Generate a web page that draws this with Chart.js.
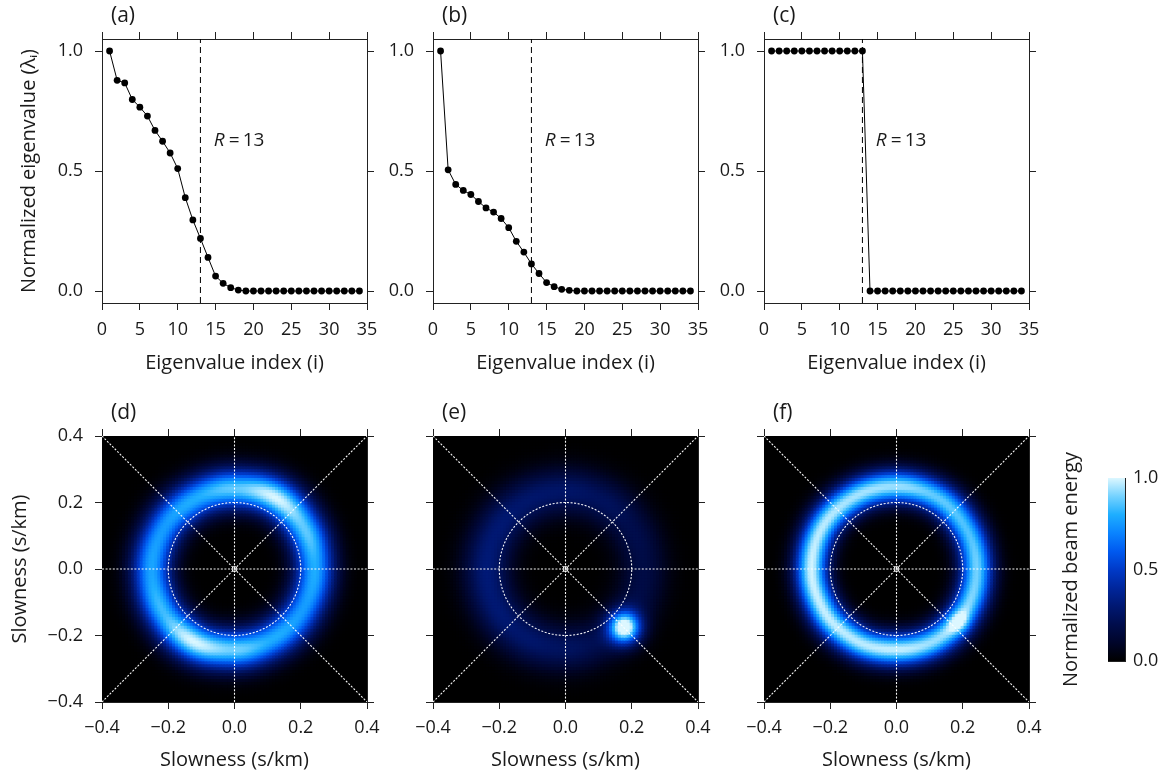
<!DOCTYPE html>
<html><head><meta charset="utf-8">
<script src="https://cdn.jsdelivr.net/npm/chart.js@4.4.1/dist/chart.umd.min.js"></script>
<style>
html,body{margin:0;padding:0;background:#fff;}
#wrap{position:relative;width:1166px;height:778px;overflow:hidden;}
#wrap canvas{position:absolute;left:0;top:0;}
</style></head>
<body><div id="wrap">
<canvas id="ca" width="1166" height="778"></canvas>
<canvas id="cb" width="1166" height="778"></canvas>
<canvas id="cc" width="1166" height="778"></canvas>
<canvas id="cd" width="1166" height="778"></canvas>
<canvas id="ce" width="1166" height="778"></canvas>
<canvas id="cf" width="1166" height="778"></canvas>
<canvas id="cbar" width="1166" height="778"></canvas>
</div>
<script>
// ---------------- data ----------------
const eigIndex = [1,2,3,4,5,6,7,8,9,10,11,12,13,14,15,16,17,18,19,20,21,22,23,24,25,26,27,28,29,30,31,32,33,34];
const eigA = [1.000,0.878,0.867,0.798,0.766,0.729,0.669,0.624,0.575,0.510,0.389,0.296,0.219,0.140,0.062,0.032,0.014,0.004,0,0,0,0,0,0,0,0,0,0,0,0,0,0,0,0];
const eigB = [1.000,0.505,0.444,0.419,0.402,0.373,0.346,0.329,0.302,0.264,0.207,0.162,0.113,0.073,0.035,0.018,0.007,0.003,0,0,0,0,0,0,0,0,0,0,0,0,0,0,0,0];
const eigC = [1,1,1,1,1,1,1,1,1,1,1,1,1,0,0,0,0,0,0,0,0,0,0,0,0,0,0,0,0,0,0,0,0,0];
const rankR = 13;
const eigXTicks = [0,5,10,15,20,25,30,35];
const eigYTicks = [0,0.5,1];

const slowTicks = [-0.4,-0.2,0,0.2,0.4];
const guideRadius = 0.2;
const ringAngles = [0,30,60,90,120,150,180,210,240,270,300,330];
// panel (d)
const ringPeakD   = [0.80,0.88,1.00,0.88,0.80,0.76,0.78,0.84,1.00,0.90,0.80,0.76];
const ringRadiusD = [0.243,0.246,0.250,0.243,0.242,0.245,0.248,0.248,0.248,0.240,0.238,0.240];
const ringWidthD  = 0.043;
const spotsD = [];
// panel (e)
const ringPeakE   = [0.18,0.20,0.24,0.27,0.28,0.30,0.31,0.30,0.28,0.25,0.20,0.18];
const ringRadiusE = [0.235,0.235,0.235,0.235,0.235,0.235,0.235,0.235,0.235,0.235,0.235,0.235];
const ringWidthE  = 0.05;
const spotsE = [[0.18,-0.174,0.98,0.034]];
// panel (f)
const ringPeakF   = [0.90,0.86,0.88,0.94,0.95,0.97,0.99,0.98,0.97,0.98,0.94,0.92];
const ringRadiusF = [0.243,0.245,0.250,0.250,0.252,0.256,0.255,0.250,0.245,0.240,0.243,0.243];
const ringWidthF  = 0.036;
const spotsF = [[0.19,-0.158,0.20,0.024]];

const cbarTicks = [0,0.5,1];
const cmapStops  = [0,0.1,0.2,0.3,0.4,0.5,0.6,0.7,0.8,0.9,1.0];
const cmapColors = ['#000000','#00052a','#000d4c','#001872','#00269c','#003ac8','#005af0','#0a84ff','#1eaeff','#74d2ff','#dcf7ff'];

// ---------------- helpers ----------------
const W = 1166, H = 778;
const FONT = "'Open Sans', Lato, 'Noto Sans', 'DejaVu Sans', sans-serif";
const TXT = '#1a1a1a';
const LINE = '#222';

function hex(c){ return [parseInt(c.slice(1,3),16),parseInt(c.slice(3,5),16),parseInt(c.slice(5,7),16)]; }
const cmapRGB = cmapColors.map(hex);
function cmap(v){
  v = Math.max(0, Math.min(1, v));
  for (let i = 1; i < cmapStops.length; i++) {
    if (v <= cmapStops[i]) {
      const f = (v - cmapStops[i-1]) / (cmapStops[i] - cmapStops[i-1]);
      const a = cmapRGB[i-1], b = cmapRGB[i];
      return 'rgb(' + Math.round(a[0]+(b[0]-a[0])*f) + ',' + Math.round(a[1]+(b[1]-a[1])*f) + ',' + Math.round(a[2]+(b[2]-a[2])*f) + ')';
    }
  }
  return cmapColors[cmapColors.length-1];
}
function angInterp(arr, deg){
  const n = arr.length, step = ringAngles[1] - ringAngles[0];
  const t = (((deg % 360) + 360) % 360) / step;
  const i = Math.floor(t) % n, f = t - Math.floor(t);
  const s = (1 - Math.cos(Math.PI * f)) / 2;
  return arr[i] * (1 - s) + arr[(i + 1) % n] * s;
}
function beamValue(x, y, ring, spots){
  const r = Math.hypot(x, y), th = Math.atan2(y, x) * 180 / Math.PI;
  const A = angInterp(ring.peak, th), R = angInterp(ring.radius, th);
  let v = A * Math.exp(-0.5 * Math.pow((r - R) / ring.width, 2));
  for (const s of spots) v += s[2] * Math.exp(-0.5 * ((x - s[0]) ** 2 + (y - s[1]) ** 2) / (s[3] ** 2));
  return v;
}
const fmt1 = v => (v < 0 ? '\u2212' : '') + Math.abs(v).toFixed(1);
const fmtInt = v => String(v);

function axis(pos, min, max, tickVals, area, o){
  o = o || {};
  return {
    type: 'linear', position: pos, min: min, max: max,
    afterBuildTicks: s => { s.ticks = tickVals.map(v => ({value: v})); },
    afterFit: s => {
      if (pos === 'bottom') s.height = H - area.b;
      else if (pos === 'top') s.height = area.t;
      else if (pos === 'left') s.width = area.l;
      else s.width = W - area.r;
    },
    grid: {display: true, drawOnChartArea: false, drawTicks: o.drawTicks !== false, tickLength: 7, tickColor: LINE, tickWidth: 1, color: LINE},
    border: {display: true, color: LINE, width: 1},
    ticks: {display: !!o.labels, font: {family: FONT, size: 18}, color: TXT, padding: o.pad != null ? o.pad : 10,
            callback: o.fmt || fmt1, maxRotation: 0, autoSkip: false},
    title: o.title ? {display: true, text: o.title, font: {family: FONT, size: 20}, color: TXT, padding: o.titlePad} : {display: false}
  };
}

const annotPlugin = {
  id: 'annot',
  beforeDatasetsDraw(chart, args, o){
    if (!o.bg) return;
    const a = chart.chartArea, ctx = chart.ctx;
    ctx.save(); ctx.fillStyle = o.bg; ctx.fillRect(a.left, a.top, a.right - a.left, a.bottom - a.top); ctx.restore();
  },
  afterDraw(chart, args, o){
    const ctx = chart.ctx, a = chart.chartArea;
    ctx.save();
    ctx.fillStyle = TXT;
    ctx.textAlign = 'left';
    ctx.textBaseline = 'middle';
    if (o.panel) {
      ctx.font = '21px ' + FONT;
      ctx.fillText(o.panel, a.left + 9, a.top - 23);
    }
    if (o.rank) {
      const x = chart.scales.x.getPixelForValue(o.rank.x);
      const y = chart.scales.y.getPixelForValue(o.rank.y);
      ctx.font = 'italic 19px ' + FONT;
      ctx.fillText('R', x, y);
      const w = ctx.measureText('R').width;
      ctx.font = '19px ' + FONT;
      ctx.fillText('\u2009=\u2009' + String(o.rank.value), x + w + 1, y);
    }
    ctx.restore();
  }
};

const baseOpts = {responsive: false, animation: false, events: [], devicePixelRatio: 1,
  layout: {padding: 0}};

function eigChart(id, vals, area, panel, withYTitle){
  return new Chart(document.getElementById(id), {
    type: 'line',
    data: {datasets: [
      {data: eigIndex.map((x, i) => ({x: x, y: vals[i]})), borderColor: '#000', borderWidth: 1,
       pointRadius: 3.4, pointBackgroundColor: '#000', pointBorderColor: '#000', pointBorderWidth: 0,
       tension: 0, order: 1, clip: false},
      {data: [{x: rankR, y: -0.05}, {x: rankR, y: 1.05}], borderColor: '#000', borderWidth: 1,
       borderDash: [6, 4], pointRadius: 0, order: 2}
    ]},
    options: Object.assign({}, baseOpts, {
      plugins: {legend: {display: false}, tooltip: {enabled: false},
                annot: {panel: panel, rank: {x: 14.75, y: 0.625, value: rankR}}},
      scales: {
        x: axis('bottom', 0, 35, eigXTicks, area, {labels: true, fmt: fmtInt, pad: 9,
              title: 'Eigenvalue index (i)', titlePad: {top: 0, bottom: H - 361 - 14}}),
        x2: axis('top', 0, 35, eigXTicks, area, {}),
        y: axis('left', -0.05, 1.05, eigYTicks, area, {labels: true, fmt: fmt1, pad: 12,
              title: withYTitle ? 'Normalized eigenvalue (\u03bb\u1d62)' : null, titlePad: {top: 17, bottom: 0}}),
        y2: axis('right', -0.05, 1.05, eigYTicks, area, {})
      }
    }),
    plugins: [annotPlugin]
  });
}

function beamChart(id, ring, spots, area, panel, withYLabels){
  const N = 90, step = 0.8 / N, lo = slowTicks[0], hi = slowTicks[slowTicks.length - 1];
  const cells = [], colors = [];
  for (let j = 0; j < N; j++) for (let i = 0; i < N; i++) {
    const x = lo + (i + 0.5) * step, y = lo + (j + 0.5) * step;
    cells.push({x: x, y: y});
    colors.push(cmap(beamValue(x, y, ring, spots)));
  }
  const cellPx = (area.r - area.l) / N;
  const guide = [];
  for (let k = 0; k <= 120; k++) { const a = k * 3 * Math.PI / 180; guide.push({x: guideRadius * Math.cos(a), y: guideRadius * Math.sin(a)}); }
  const dotted = {showLine: true, borderColor: 'rgba(255,255,255,0.97)', borderWidth: 1.1, borderDash: [2, 1.6],
                  pointRadius: 0, fill: false, order: 1};
  return new Chart(document.getElementById(id), {
    type: 'scatter',
    data: {datasets: [
      {data: cells, pointStyle: 'rect', pointRadius: (cellPx + 1.3) / Math.SQRT2, pointBackgroundColor: colors,
       pointBorderWidth: 0, pointHoverRadius: 0, order: 5},
      Object.assign({}, dotted, {data: [{x: lo, y: 0}, {x: hi, y: 0}]}),
      Object.assign({}, dotted, {data: [{x: 0, y: lo}, {x: 0, y: hi}]}),
      Object.assign({}, dotted, {data: [{x: lo, y: lo}, {x: hi, y: hi}]}),
      Object.assign({}, dotted, {data: [{x: lo, y: hi}, {x: hi, y: lo}]}),
      Object.assign({}, dotted, {data: guide}),
      {data: [{x: 0, y: 0}], pointStyle: 'circle', pointRadius: 2.5, pointBorderColor: '#fff',
       pointBackgroundColor: 'rgba(0,0,0,0)', pointBorderWidth: 1, order: 0}
    ]},
    options: Object.assign({}, baseOpts, {
      plugins: {legend: {display: false}, tooltip: {enabled: false}, annot: {panel: panel, bg: '#000'}},
      scales: {
        x: axis('bottom', lo, hi, slowTicks, area, {labels: true, fmt: fmt1, pad: 8,
              title: 'Slowness (s/km)', titlePad: {top: 0, bottom: 6}}),
        x2: axis('top', lo, hi, slowTicks, area, {}),
        y: axis('left', lo, hi, slowTicks, area, {labels: withYLabels, fmt: fmt1, pad: 12,
              title: withYLabels ? 'Slowness (s/km)' : null, titlePad: {top: 8, bottom: 0}}),
        y2: axis('right', lo, hi, slowTicks, area, {})
      }
    }),
    plugins: [annotPlugin]
  });
}

// ---------------- build ----------------
const areaA = {l: 102, r: 367, t: 39, b: 303};
const areaB = {l: 433, r: 698, t: 39, b: 303};
const areaC = {l: 764, r: 1029, t: 39, b: 303};
const areaD = {l: 102, r: 367, t: 436, b: 702};
const areaE = {l: 433, r: 698, t: 436, b: 702};
const areaF = {l: 764, r: 1029, t: 436, b: 702};
const areaCB = {l: 1108, r: 1125, t: 478, b: 661};

eigChart('ca', eigA, areaA, '(a)', true);
eigChart('cb', eigB, areaB, '(b)', false);
eigChart('cc', eigC, areaC, '(c)', false);

beamChart('cd', {peak: ringPeakD, radius: ringRadiusD, width: ringWidthD}, spotsD, areaD, '(d)', true);
beamChart('ce', {peak: ringPeakE, radius: ringRadiusE, width: ringWidthE}, spotsE, areaE, '(e)', false);
beamChart('cf', {peak: ringPeakF, radius: ringRadiusF, width: ringWidthF}, spotsF, areaF, '(f)', false);

new Chart(document.getElementById('cbar'), {
  type: 'line',
  data: {datasets: [
    {data: [{x: 0, y: 1}, {x: 1, y: 1}], fill: 'origin', borderWidth: 0, pointRadius: 0,
     backgroundColor: c => {
       const a = c.chart.chartArea;
       if (!a) return '#000';
       const g = c.chart.ctx.createLinearGradient(0, a.bottom, 0, a.top);
       cmapStops.forEach((s, i) => g.addColorStop(s, cmapColors[i]));
       return g;
     }},
    {data: [{x: 0.52, y: cbarTicks[1]}, {x: 1, y: cbarTicks[1]}], borderColor: '#111', borderWidth: 1.5, pointRadius: 0}
  ]},
  options: Object.assign({}, baseOpts, {
    plugins: {legend: {display: false}, tooltip: {enabled: false}},
    scales: {
      x: axis('bottom', 0, 1, [0, 1], areaCB, {drawTicks: false}),
      x2: axis('top', 0, 1, [0, 1], areaCB, {drawTicks: false}),
      y: axis('left', 0, 1, cbarTicks, areaCB, {drawTicks: false, title: 'Normalized beam energy', titlePad: {top: 1059, bottom: 0}}),
      y2: axis('right', 0, 1, cbarTicks, areaCB, {labels: true, fmt: fmt1, pad: 8, drawTicks: false})
    }
  })
});
</script>
</body></html>
